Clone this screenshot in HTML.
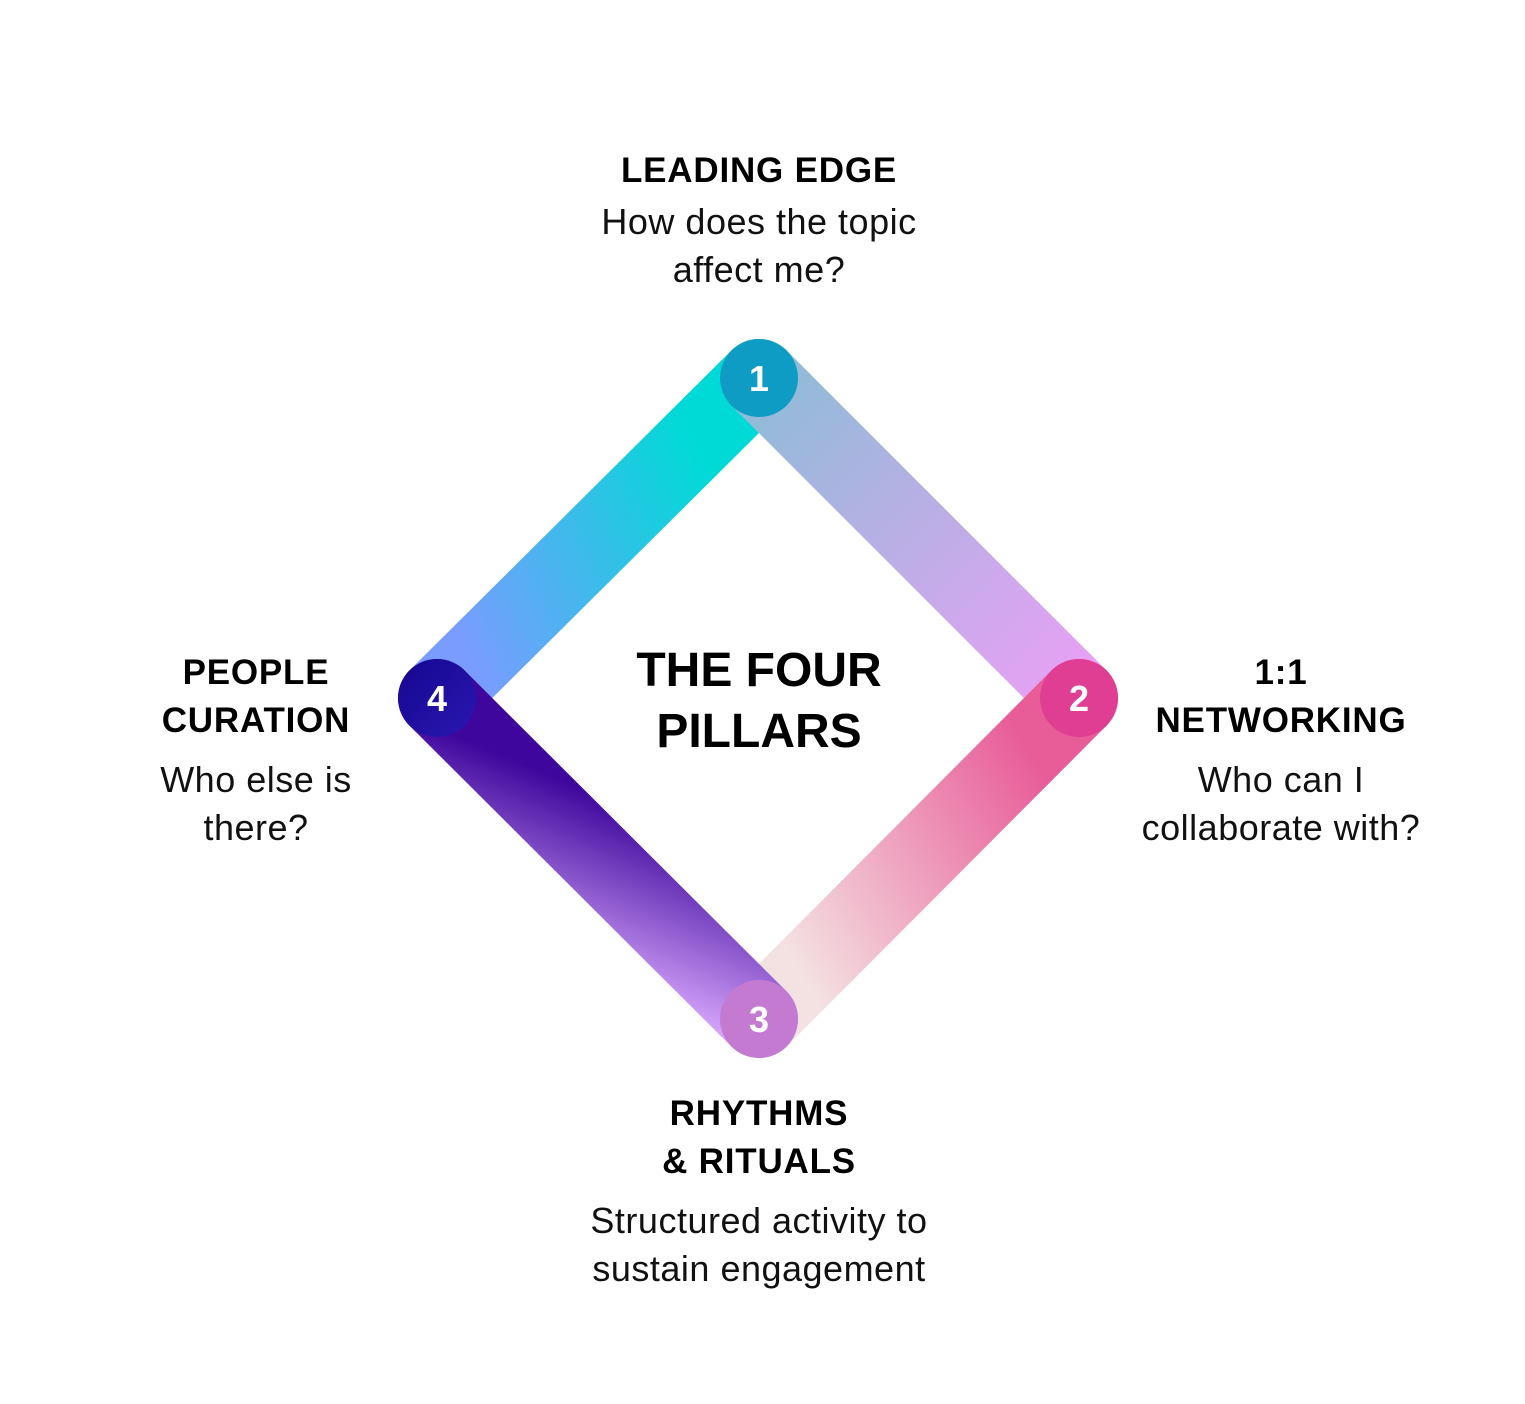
<!DOCTYPE html>
<html><head><meta charset="utf-8"><style>
html,body{margin:0;padding:0;background:#fff;}
svg{display:block;}
text{font-family:"Liberation Sans",sans-serif;fill:#000;}
.h{font-weight:bold;font-size:35px;letter-spacing:0.8px;}
.b{font-size:36px;fill:#111;letter-spacing:0.5px;}
.c{font-weight:bold;font-size:48px;}
.n{font-weight:bold;font-size:36px;fill:#fff;}
</style></head><body>
<svg width="1525" height="1404" viewBox="0 0 1525 1404" xmlns="http://www.w3.org/2000/svg">
<defs>
<linearGradient id="g1" gradientUnits="userSpaceOnUse" x1="450" y1="620" x2="720" y2="500">
<stop offset="0" stop-color="#7a9cff"/><stop offset="1" stop-color="#00dad6"/></linearGradient>
<linearGradient id="g2" gradientUnits="userSpaceOnUse" x1="759" y1="378" x2="1079" y2="698">
<stop offset="0" stop-color="#8ebcd6"/><stop offset="1" stop-color="#eaa0f6"/></linearGradient>
<linearGradient id="g3" gradientUnits="userSpaceOnUse" x1="790" y1="960" x2="1060" y2="800">
<stop offset="0" stop-color="#f4e2e2"/><stop offset="1" stop-color="#e85c98"/></linearGradient>
<linearGradient id="g4" gradientUnits="userSpaceOnUse" x1="660" y1="820" x2="590" y2="990">
<stop offset="0" stop-color="#3e069c"/><stop offset="1" stop-color="#dcacff"/></linearGradient>
<linearGradient id="n4" x1="0" y1="0" x2="1" y2="1">
<stop offset="0" stop-color="#150690"/><stop offset="1" stop-color="#2a18b0"/></linearGradient>
</defs>
<g stroke-linecap="round" stroke-width="78" fill="none">
<line x1="437" y1="698" x2="759" y2="378" stroke="url(#g1)"/>
<line x1="759" y1="378" x2="1079" y2="698" stroke="url(#g2)"/>
<line x1="1079" y1="698" x2="759" y2="1019" stroke="url(#g3)"/>
<line x1="437" y1="698" x2="759" y2="1019" stroke="url(#g4)"/>
</g>
<circle cx="759" cy="378" r="39" fill="#0e9bc4"/>
<circle cx="1079" cy="698" r="39" fill="#e03e92"/>
<circle cx="759" cy="1019" r="39" fill="#c57ad2"/>
<circle cx="437" cy="698" r="39" fill="url(#n4)"/>
<text class="n" x="759" y="391" text-anchor="middle">1</text>
<text class="n" x="1079" y="711" text-anchor="middle">2</text>
<text class="n" x="759" y="1032" text-anchor="middle">3</text>
<text class="n" x="437" y="711" text-anchor="middle">4</text>

<text class="c" x="759" y="686" text-anchor="middle">THE FOUR</text>
<text class="c" x="759" y="747" text-anchor="middle">PILLARS</text>

<text class="h" x="759" y="182" text-anchor="middle">LEADING EDGE</text>
<text class="b" x="759" y="234" text-anchor="middle">How does the topic</text>
<text class="b" x="759" y="282" text-anchor="middle">affect me?</text>

<text class="h" x="256" y="684" text-anchor="middle">PEOPLE</text>
<text class="h" x="256" y="732" text-anchor="middle">CURATION</text>
<text class="b" x="256" y="792" text-anchor="middle">Who else is</text>
<text class="b" x="256" y="840" text-anchor="middle">there?</text>

<text class="h" x="1281" y="684" text-anchor="middle">1:1</text>
<text class="h" x="1281" y="732" text-anchor="middle">NETWORKING</text>
<text class="b" x="1281" y="792" text-anchor="middle">Who can I</text>
<text class="b" x="1281" y="840" text-anchor="middle">collaborate with?</text>

<text class="h" x="759" y="1125" text-anchor="middle">RHYTHMS</text>
<text class="h" x="759" y="1173" text-anchor="middle">&amp; RITUALS</text>
<text class="b" x="759" y="1233" text-anchor="middle">Structured activity to</text>
<text class="b" x="759" y="1281" text-anchor="middle">sustain engagement</text>
</svg>
</body></html>
